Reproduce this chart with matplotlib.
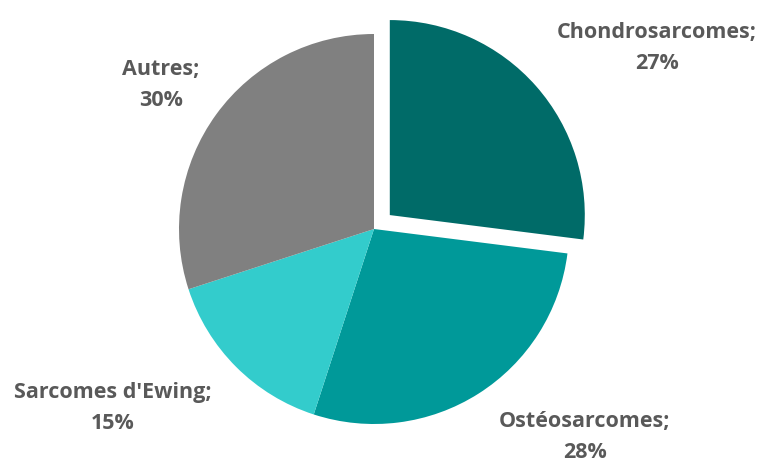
import matplotlib
matplotlib.use("Agg")
import matplotlib.pyplot as plt

# Données
categories = ["Chondrosarcomes", "Ostéosarcomes", "Sarcomes d'Ewing", "Autres"]
valeurs = [27, 28, 15, 30]
couleurs = ["#006B68", "#009999", "#33CCCC", "#808080"]
explosion = [0.108, 0, 0, 0]

# positions des étiquettes (coordonnées données, rayon = 1)
pos_labels = [(1.451, 0.928), (1.082, -1.067), (-1.338, -0.918), (-1.092, 0.738)]

plt.rcParams['font.family'] = ['Open Sans', 'DejaVu Sans']

fig = plt.figure(figsize=(7.62, 4.62), dpi=100)
ax = fig.add_axes([0, 0, 1, 1])

ax.pie(valeurs, colors=couleurs, explode=explosion, startangle=90,
       counterclock=False, radius=1.0,
       wedgeprops=dict(edgecolor='none'))

for cat, val, (x, y) in zip(categories, valeurs, pos_labels):
    ax.text(x, y, f"{cat};\n{val}%", ha='center', va='center',
            fontsize=15.5, fontweight='bold', color='#595959', linespacing=1.6)

# centre du camembert à (374, 229) px, rayon 195 px
r = 195
ax.set_xlim(-374 / r, (762 - 374) / r)
ax.set_ylim(-(462 - 229) / r, 229 / r)
ax.set_aspect('auto')
ax.axis('off')

fig.savefig("out.png", dpi=100)
